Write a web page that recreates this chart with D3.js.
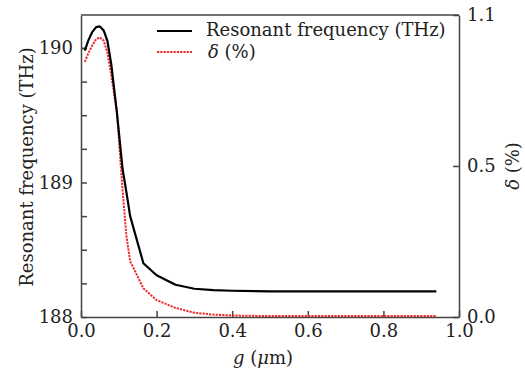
<!DOCTYPE html>
<html>
<head>
<meta charset="utf-8">
<script src="https://cdn.jsdelivr.net/npm/d3@7"></script>
<style>
  body { margin: 0; background: #fff; }
  text { font-family: "DejaVu Serif", serif; fill: #222; }
</style>
</head>
<body>
<div id="chart"></div>
<script>
// gap g (um) and the two measured series
const gValues = [0.01, 0.02, 0.03, 0.04, 0.05, 0.06, 0.07, 0.08, 0.095, 0.11, 0.12, 0.13, 0.165, 0.2, 0.25, 0.3, 0.35, 0.4, 0.5, 0.6, 0.7, 0.8, 0.94];
const freqValues = [189.98, 190.06, 190.12, 190.155, 190.16, 190.13, 190.05, 189.88, 189.52, 189.10, 188.93, 188.75, 188.40, 188.31, 188.24, 188.21, 188.20, 188.195, 188.19, 188.19, 188.19, 188.19, 188.19];
const deltaValues = [0.845, 0.875, 0.90, 0.92, 0.926, 0.915, 0.875, 0.80, 0.68, 0.42, 0.27, 0.185, 0.095, 0.056, 0.03, 0.014, 0.008, 0.005, 0.003, 0.003, 0.003, 0.003, 0.003];

const xTicks = [0, 0.2, 0.4, 0.6, 0.8, 1.0];
const leftTicks = [188, 189, 190];
const leftMinor = [188.25, 188.5, 188.75, 189.25, 189.5, 189.75, 190.0];
const rightTicks = [0, 0.5, 1.0];
const rightTickLabels = ["0.0", "0.5", "1.1"];

const margin = {top: 15, right: 66, bottom: 56, left: 81},
    width = 525 - margin.left - margin.right,
    height = 373 - margin.top - margin.bottom;

const svg = d3.select("#chart")
  .append("svg")
    .attr("width", 525)
    .attr("height", 373)
  .append("g")
    .attr("transform", `translate(${margin.left},${margin.top})`);

const x = d3.scaleLinear().domain([0, 1]).range([0, width]);
const yL = d3.scaleLinear().domain([188, 190.245]).range([height, 0]);
const yR = d3.scaleLinear().domain([0, 1]).range([height, 0]);

const fs = "18px";

// bottom axis
const xAxis = svg.append("g")
    .attr("transform", `translate(0,${height})`)
    .call(d3.axisBottom(x).tickValues(xTicks).tickFormat(d3.format(".1f"))
      .tickSizeInner(-6).tickSizeOuter(0).tickPadding(7));
xAxis.selectAll("text").style("font-size", fs);

// left axis
const yAxisL = svg.append("g")
    .call(d3.axisLeft(yL).tickValues(leftTicks).tickFormat(d3.format("d"))
      .tickSizeInner(-6).tickSizeOuter(0).tickPadding(8));
yAxisL.selectAll("text").style("font-size", fs);
svg.append("g")
    .call(d3.axisLeft(yL).tickValues(leftMinor).tickFormat("")
      .tickSizeInner(-6).tickSizeOuter(0))
    .select(".domain").remove();

// right axis
const yAxisR = svg.append("g")
    .attr("transform", `translate(${width},0)`)
    .call(d3.axisRight(yR).tickValues(rightTicks)
      .tickFormat((d, i) => rightTickLabels[i])
      .tickSizeInner(-6).tickSizeOuter(0).tickPadding(8));
yAxisR.selectAll("text").style("font-size", fs);

// frame on top
svg.append("line").attr("x1", 0).attr("x2", width).attr("y1", 0).attr("y2", 0);

svg.selectAll(".domain, .tick line, line")
    .attr("stroke", "#444")
    .attr("stroke-width", 1.5);

// series
const pts = gValues.map((g, i) => ({g: g, f: freqValues[i], d: deltaValues[i]}));

svg.append("path")
    .datum(pts)
    .attr("fill", "none")
    .attr("stroke", "#ee2a2a")
    .attr("stroke-width", 2)
    .attr("stroke-dasharray", "2.2,1.1")
    .attr("d", d3.line().x(d => x(d.g)).y(d => yR(d.d)));

svg.append("path")
    .datum(pts)
    .attr("fill", "none")
    .attr("stroke", "#000")
    .attr("stroke-width", 2.2)
    .attr("stroke-linejoin", "round")
    .attr("d", d3.line().x(d => x(d.g)).y(d => yL(d.f)));

// axis titles
svg.append("text")
    .attr("transform", `translate(${-54},${height / 2 + 1}) rotate(-90)`)
    .attr("text-anchor", "middle")
    .attr("dy", "0.35em")
    .style("font-size", fs)
    .text("Resonant frequency (THz)");

svg.append("text")
    .attr("transform", `translate(${width + 54},${height / 2}) rotate(-90)`)
    .attr("text-anchor", "middle")
    .attr("dy", "0.35em")
    .style("font-size", fs)
    .html('<tspan font-style="italic">δ</tspan> (%)');

svg.append("text")
    .attr("x", width / 2 - 7)
    .attr("y", height + 47)
    .attr("text-anchor", "middle")
    .style("font-size", fs)
    .html('<tspan font-style="italic">g</tspan> (<tspan font-style="italic">μ</tspan>m)');

// legend
const legend = svg.append("g").attr("transform", "translate(76,16)");
legend.append("line").attr("x1", 0).attr("x2", 35).attr("y1", 0).attr("y2", 0)
    .attr("stroke", "#000").attr("stroke-width", 2.2);
legend.append("text").attr("x", 49).attr("y", 5).style("font-size", fs)
    .text("Resonant frequency (THz)");
legend.append("line").attr("x1", 0).attr("x2", 35).attr("y1", 21).attr("y2", 21)
    .attr("stroke", "#ee2a2a").attr("stroke-width", 2).attr("stroke-dasharray", "2.2,1.1");
legend.append("text").attr("x", 51).attr("y", 27).style("font-size", fs)
    .html('<tspan font-style="italic">δ</tspan> (%)');
</script>
</body>
</html>
